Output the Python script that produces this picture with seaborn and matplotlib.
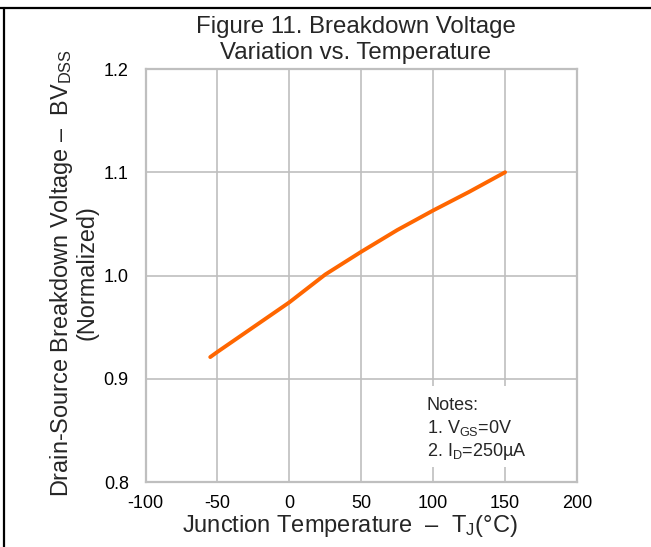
import matplotlib
matplotlib.use("Agg")
import matplotlib.pyplot as plt
import seaborn as sns
import pandas as pd
from matplotlib.lines import Line2D
from matplotlib.patches import Rectangle

# ---- data ----
temperature = [-55, -50, -25, 0, 25, 50, 75, 100, 125, 150]
bv_norm = [0.921, 0.926, 0.950, 0.974, 1.001, 1.023, 1.044, 1.063, 1.081, 1.100]
x_ticks = [-100, -50, 0, 50, 100, 150, 200]
y_ticks = [0.8, 0.9, 1.0, 1.1, 1.2]
y_tick_labels = ["0.8", "0.9", "1.0", "1.1", "1.2"]
title_lines = ["Figure 11. Breakdown Voltage", "Variation vs. Temperature"]
notes = ["Notes:", "1. V$_\\mathregular{GS}$=0V", "2. I$_\\mathregular{D}$=250µA"]

sns.set_style("white")
plt.rcParams["font.family"] = ["Liberation Sans", "DejaVu Sans"]
plt.rcParams["mathtext.fontset"] = "custom"
plt.rcParams["mathtext.rm"] = "Liberation Sans"
plt.rcParams["mathtext.it"] = "Liberation Sans:italic"
plt.rcParams["mathtext.bf"] = "Liberation Sans:bold"

df = pd.DataFrame({"T": temperature, "BV": bv_norm})

W, H = 651, 547
fig = plt.figure(figsize=(W / 100, H / 100), dpi=100)
ax_l, ax_r, ax_t, ax_b = 145.5, 577, 69, 482
ax = fig.add_axes([ax_l / W, 1 - ax_b / H, (ax_r - ax_l) / W, (ax_b - ax_t) / H])

grid_c = "#BFBFBF"
sns.lineplot(data=df, x="T", y="BV", ax=ax, color="#FF6600", linewidth=2.8, zorder=3)

ax.set_xlim(-100, 200)
ax.set_ylim(0.8, 1.2)
ax.set_xticks(x_ticks)
ax.set_xticklabels([str(v) for v in x_ticks])
ax.set_yticks(y_ticks)
ax.set_yticklabels(y_tick_labels)
ax.grid(True, color=grid_c, linewidth=1.2, zorder=0)
ax.set_axisbelow(True)
for s in ax.spines.values():
    s.set_color(grid_c)
    s.set_linewidth(1.6)
ax.tick_params(axis="both", length=0, labelsize=13, colors="black")
ax.tick_params(axis="x", pad=9)
ax.tick_params(axis="y", pad=12)

ax.set_xlabel("Junction Temperature  \u2013  T$_\\mathregular{J}$(°C)", fontsize=17)
ax.xaxis.set_label_coords((350 - ax_l) / (ax_r - ax_l), -0.074)
ax.set_ylabel("Drain-Source Breakdown Voltage \u2013  BV$_\\mathregular{DSS}$\n(Normalized)",
              fontsize=16.9, linespacing=1.05)
ax.yaxis.set_label_coords((99 - ax_l) / (ax_r - ax_l), (ax_b - 273) / (ax_b - ax_t))

# title
cx = 355.5 / W
fig.text(cx, 1 - 32.5 / H, title_lines[0], ha="center", va="baseline", fontsize=17.3)
fig.text(cx, 1 - 59.5 / H, title_lines[1], ha="center", va="baseline", fontsize=17.3)

# notes box
ax.add_patch(Rectangle((0.628, 0.036), 0.27, 0.196, transform=ax.transAxes,
                       facecolor="white", edgecolor="none", zorder=2))
for txt, ypx in zip(notes, [405, 428, 452]):
    ax.text((427 - ax_l) / (ax_r - ax_l), (ax_b - ypx) / (ax_b - ax_t), txt,
            transform=ax.transAxes, ha="left", va="center", fontsize=13, zorder=4)

# outer frame lines (top and left)
fig.add_artist(Line2D([0, 1], [1 - 7.5 / H, 1 - 7.5 / H], color="black", linewidth=1.6,
                      transform=fig.transFigure))
fig.add_artist(Line2D([4 / W, 4 / W], [0, 1 - 7.5 / H], color="black", linewidth=1.6,
                      transform=fig.transFigure))

fig.savefig("out.png", dpi=100)
